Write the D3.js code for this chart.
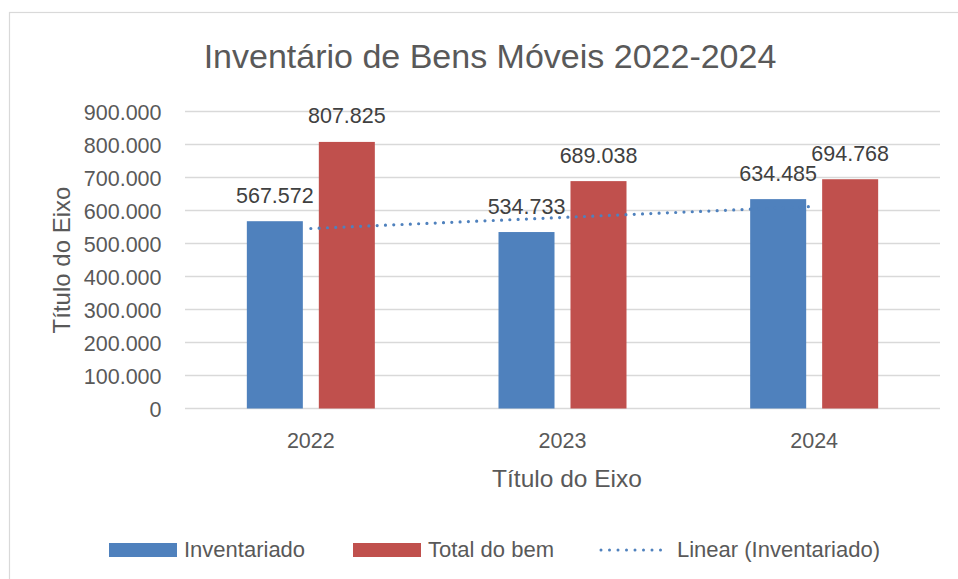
<!DOCTYPE html>
<html>
<head>
<meta charset="utf-8">
<script src="https://cdn.jsdelivr.net/npm/d3@7"></script>
<style>
  html, body { margin: 0; padding: 0; background: #fff; }
  svg { display: block; }
  text { font-family: "Liberation Sans", Arial, sans-serif; fill: #595959; }
</style>
</head>
<body>
<svg id="chart" width="958" height="579"></svg>
<script>
const categories = ["2022", "2023", "2024"];
const seriesNames = ["Inventariado", "Total do bem"];
const inventariado = [567572, 534733, 634485];
const totalDoBem = [807825, 689038, 694768];
const yTicks = [0, 100000, 200000, 300000, 400000, 500000, 600000, 700000, 800000, 900000];
const titleText = "Inventário de Bens Móveis 2022-2024";
const axisTitle = "Título do Eixo";
const trendLabel = "Linear (Inventariado)";
const colors = ["#4F81BD", "#C0504D"];

const svg = d3.select("#chart");
const locale = d3.formatLocale({decimal: ",", thousands: ".", grouping: [3], currency: ["R$", ""]});
const fmt = locale.format(",d");

// chart border
svg.append("rect").attr("x", 9.5).attr("y", 12.5).attr("width", 1000).attr("height", 620)
  .attr("fill", "none").attr("stroke", "#D9D9D9").attr("stroke-width", 1.2);

const x = d3.scaleBand().domain(categories).range([185, 940]).paddingInner(0).paddingOuter(0);
const y = d3.scaleLinear().domain([0, 900000]).range([408.5, 111.5]);
const half = x.bandwidth() * 0.2543;
const xs = d3.scaleBand().domain(seriesNames).range([-half, half]).paddingInner(0.222).paddingOuter(0);

// title
svg.append("text").attr("x", 490).attr("y", 68).attr("text-anchor", "middle")
  .style("font-size", "34px").text(titleText);

// gridlines
svg.append("g").selectAll("line").data(yTicks).join("line")
  .attr("x1", 185).attr("x2", 940)
  .attr("y1", d => y(d)).attr("y2", d => y(d))
  .attr("stroke", "#D9D9D9").attr("stroke-width", 1.3);

// y axis labels
const yAxis = d3.axisLeft(y).tickValues(yTicks).tickFormat(d => fmt(d)).tickSize(0).tickPadding(0);
const gy = svg.append("g").attr("transform", "translate(161.5,0)").call(yAxis);
gy.select(".domain").remove();
gy.selectAll("text").style("font-size", "21.5px").attr("fill", "#595959").attr("dy", "0.36em")
  .style("font-family", '"Liberation Sans", Arial, sans-serif');

// x axis labels
const xAxis = d3.axisBottom(x).tickSize(0).tickPadding(0);
const gx = svg.append("g").attr("transform", "translate(0,448)").call(xAxis);
gx.select(".domain").remove();
gx.selectAll("text").style("font-size", "21.5px").attr("fill", "#595959").attr("dy", 0)
  .style("font-family", '"Liberation Sans", Arial, sans-serif');

// bars
const seriesData = [inventariado, totalDoBem];
seriesData.forEach((vals, si) => {
  const g = svg.append("g");
  g.selectAll("rect").data(vals).join("rect")
    .attr("x", (d, i) => x(categories[i]) + x.bandwidth() / 2 + xs(seriesNames[si]))
    .attr("width", xs.bandwidth())
    .attr("y", d => y(d))
    .attr("height", d => y(0) - y(d))
    .attr("fill", colors[si]);
});

// trendline (linear regression of Inventariado)
const n = inventariado.length;
const xsIdx = d3.range(1, n + 1);
const mx = d3.mean(xsIdx), my = d3.mean(inventariado);
const slope = d3.sum(xsIdx.map((xi, i) => (xi - mx) * (inventariado[i] - my))) / d3.sum(xsIdx.map(xi => (xi - mx) ** 2));
const icpt = my - slope * mx;
const trendPts = categories.map((c, i) => [x(c) + x.bandwidth() / 2, y(icpt + slope * (i + 1))]);
svg.append("path").attr("d", d3.line()(trendPts))
  .attr("fill", "none").attr("stroke", colors[0]).attr("stroke-width", 3.2)
  .attr("stroke-linecap", "round").attr("stroke-dasharray", "0 8.3");

// data labels
seriesData.forEach((vals, si) => {
  svg.append("g").selectAll("text").data(vals).join("text")
    .attr("x", (d, i) => x(categories[i]) + x.bandwidth() / 2 + xs(seriesNames[si]) + xs.bandwidth() / 2)
    .attr("y", d => y(d) - 18.5)
    .attr("text-anchor", "middle")
    .style("font-size", "21.5px").style("fill", "#404040")
    .text(d => fmt(d));
});

// axis titles
svg.append("text").attr("x", 567).attr("y", 487).attr("text-anchor", "middle")
  .style("font-size", "24.5px").text(axisTitle);
svg.append("text").attr("transform", "translate(70,260) rotate(-90)").attr("text-anchor", "middle")
  .style("font-size", "24px").text(axisTitle);

// legend
const legend = svg.append("g");
const legItems = [
  {type: "rect", color: colors[0], x: 109, w: 68, label: seriesNames[0], tx: 184},
  {type: "rect", color: colors[1], x: 353, w: 68, label: seriesNames[1], tx: 428},
  {type: "line", color: colors[0], x: 601, w: 68, label: trendLabel, tx: 677}
];
legItems.forEach(it => {
  if (it.type === "rect") {
    legend.append("rect").attr("x", it.x).attr("y", 543).attr("width", it.w).attr("height", 14).attr("fill", it.color);
  } else {
    legend.append("line").attr("x1", it.x).attr("x2", it.x + it.w).attr("y1", 550).attr("y2", 550)
      .attr("stroke", it.color).attr("stroke-width", 3).attr("stroke-linecap", "round").attr("stroke-dasharray", "0 8.5");
  }
  legend.append("text").attr("x", it.tx).attr("y", 557).style("font-size", "22px").text(it.label);
});
</script>
</body>
</html>
